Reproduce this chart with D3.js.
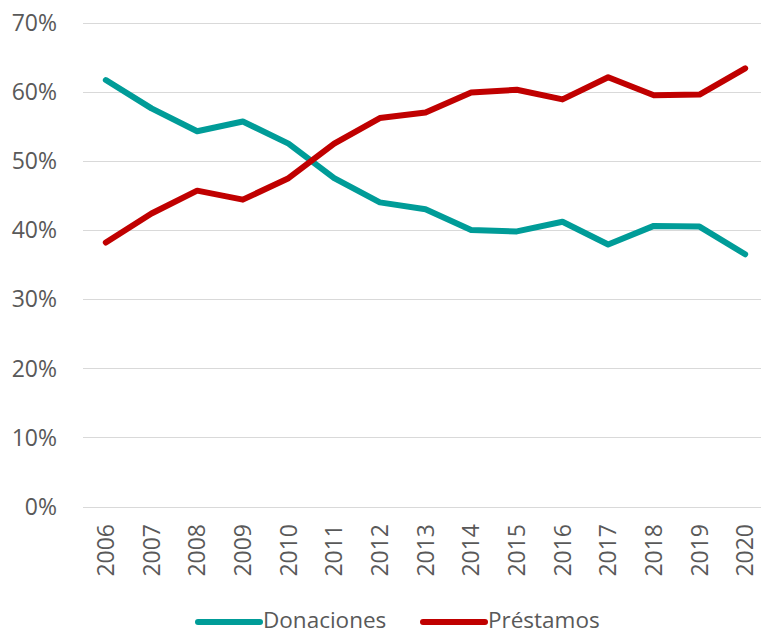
<!DOCTYPE html>
<html>
<head>
<meta charset="utf-8">
<script src="https://cdn.jsdelivr.net/npm/d3@7"></script>
<style>
  body { margin: 0; background: #fff; }
  svg text { font-family: "Open Sans", sans-serif; fill: #595959; }
</style>
</head>
<body>
<div id="chart"></div>
<script>
// data (share of total, %)
var years = ["2006", "2007", "2008", "2009", "2010", "2011", "2012", "2013",
	"2014", "2015", "2016", "2017", "2018", "2019", "2020"];
var donaciones = [61.7, 57.6, 54.3, 55.7, 52.5, 47.5, 44.0, 43.0, 40.0, 39.8, 41.2, 37.9, 40.6, 40.5, 36.5];
var prestamos = [38.2, 42.4, 45.7, 44.4, 47.5, 52.5, 56.2, 57.0, 59.9, 60.3, 58.9, 62.1, 59.5, 59.6, 63.4];
var yTicks = [0, 10, 20, 30, 40, 50, 60, 70];
var seriesNames = ["Donaciones", "Préstamos"];
var seriesColors = ["#009c98", "#c00000"];

var width = 761, height = 635;
var svg = d3.select("#chart").append("svg")
	.attr("width", width)
	.attr("height", height);

var x = d3.scaleBand()
	.domain(years)
	.range([83, 768]);

var y = d3.scaleLinear()
	.domain([0, 70])
	.range([506.5, 22.7]);

// gridlines
svg.append("g")
	.selectAll("line")
	.data(yTicks)
	.enter().append("line")
		.attr("x1", 83)
		.attr("x2", width)
		.attr("y1", function(d) { return Math.round(y(d)) + 0.5; })
		.attr("y2", function(d) { return Math.round(y(d)) + 0.5; })
		.attr("stroke", "#d9d9d9")
		.attr("stroke-width", 1.2);

// y labels
svg.append("g")
	.selectAll("text")
	.data(yTicks)
	.enter().append("text")
		.attr("x", 57)
		.attr("y", function(d) { return y(d); })
		.attr("dy", "0.36em")
		.attr("text-anchor", "end")
		.style("font-size", "23px")
		.text(function(d) { return d + "%"; });

// x labels, rotated
svg.append("g")
	.selectAll("text")
	.data(years)
	.enter().append("text")
		.attr("transform", function(d) {
			return "translate(" + (x(d) + x.bandwidth() / 2) + ",524) rotate(-90)";
		})
		.attr("dy", "0.36em")
		.attr("text-anchor", "end")
		.style("font-size", "23px")
		.text(function(d) { return d; });

var line = d3.line()
	.x(function(d, i) { return x(years[i]) + x.bandwidth() / 2; })
	.y(function(d) { return y(d); });

[donaciones, prestamos].forEach(function(vals, k) {
	svg.append("path")
		.datum(vals)
		.attr("d", line)
		.attr("fill", "none")
		.attr("stroke", seriesColors[k])
		.attr("stroke-width", 6)
		.attr("stroke-linejoin", "round")
		.attr("stroke-linecap", "round");
});

// legend
var legendX = [198, 423];
var legend = svg.append("g")
	.selectAll("g")
	.data(seriesNames)
	.enter().append("g")
		.attr("transform", function(d, i) { return "translate(" + legendX[i] + ",622)"; });
legend.append("line")
	.attr("x1", 0).attr("x2", 62)
	.attr("stroke", function(d, i) { return seriesColors[i]; })
	.attr("stroke-width", 6)
	.attr("stroke-linecap", "round");
legend.append("text")
	.attr("x", 65)
	.attr("y", 6)
	.style("font-size", "22.5px")
	.text(function(d) { return d; });
</script>
</body>
</html>
